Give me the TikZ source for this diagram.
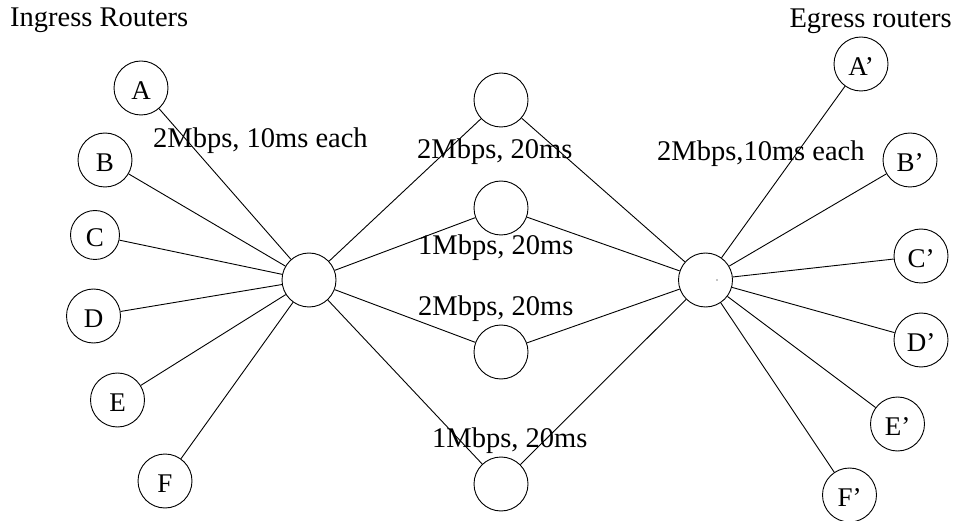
\documentclass[tikz,border=0pt]{standalone}
\usepackage{fontspec}
\setmainfont{Liberation Serif}
\begin{document}
\begin{tikzpicture}[x=1pt,y=-1pt,
  router/.style={draw,circle,line width=0.9pt,minimum size=54pt,inner sep=0pt,text height=23pt,text depth=0pt,font=\fontsize{27}{30}\selectfont},
  lbl/.style={inner sep=0pt,font=\fontsize{28.5}{32}\selectfont},
  link/.style={line width=0.9pt}]
\useasboundingbox (0,0) rectangle (956,521);
% titles
\node[lbl,anchor=base west] (ting) at (10,27) {Ingress Routers};
\node[lbl,anchor=base east] (tegr) at (952,28) {Egress routers};
% ingress
\node[router] (A) at (141,88) {A};
\node[router] (B) at (105,160) {B};
\node[router,minimum size=49pt] (C) at (95,235) {C};
\node[router] (D) at (93.5,316) {D};
\node[router] (E) at (117.5,400) {E};
\node[router] (F) at (165,481) {F};
% hubs
\node[router] (L) at (309,280) {};
\node[router] (R) at (705.5,280) {};
\fill (717,280) circle (0.6pt);
% middle
\node[router] (M1) at (501,100) {};
\node[router] (M2) at (501,208) {};
\node[router] (M3) at (501,352) {};
\node[router] (M4) at (501,484) {};
% egress
\node[router] (A2) at (861,64) {A’};
\node[router] (B2) at (910,160) {B’};
\node[router] (C2) at (921,256) {C’};
\node[router] (D2) at (921,340) {D’};
\node[router] (E2) at (897.5,424) {E’};
\node[router] (F2) at (849.5,495) {F’};
% links
\foreach \n in {A,B,C,D,E,F} \draw[link] (\n) -- (L);
\foreach \n in {A2,B2,C2,D2,E2,F2} \draw[link] (\n) -- (R);
\foreach \n in {M1,M2,M3,M4} {\draw[link] (L) -- (\n); \draw[link] (\n) -- (R);}
% labels
\node[lbl,anchor=base west] (l1) at (153,148) {2Mbps, 10ms each};
\node[lbl,anchor=base west] (l2) at (657,161) {2Mbps,10ms each};
\node[lbl,anchor=base west] (l3) at (417,159) {2Mbps, 20ms};
\node[lbl,anchor=base west] (l4) at (418,255) {1Mbps, 20ms};
\node[lbl,anchor=base west] (l5) at (418,316) {2Mbps, 20ms};
\node[lbl,anchor=base west] (l6) at (432,447) {1Mbps, 20ms};
\end{tikzpicture}
\end{document}
